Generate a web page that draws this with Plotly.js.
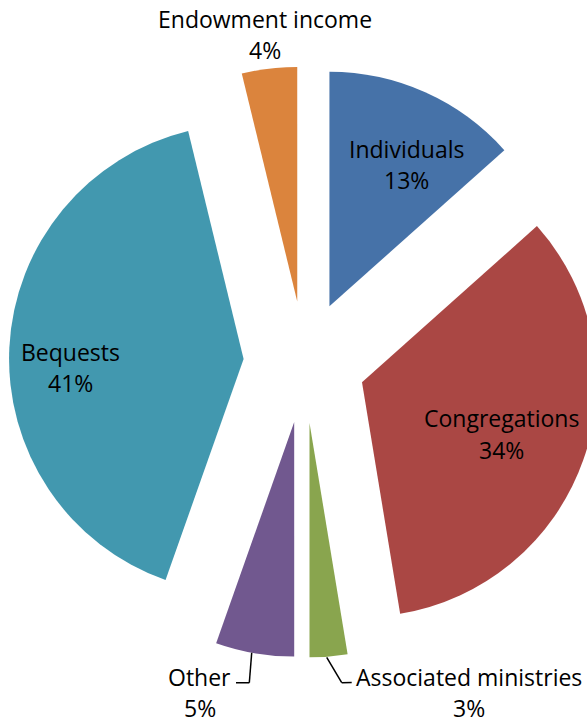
<!DOCTYPE html>
<html>
<head>
<meta charset="utf-8">
<script src="https://cdn.plot.ly/plotly-3.0.1.min.js"></script>
<style>
  html, body { margin: 0; padding: 0; overflow: hidden; background: #ffffff; }
  #chart { width: 600px; height: 723px; }
</style>
</head>
<body>
<div id="chart"></div>
<script>
// ---- data ----
const categories = ['Individuals', 'Congregations', 'Associated ministries', 'Other', 'Bequests', 'Endowment income'];
const shares = [13.4, 34.0, 2.6, 5.4, 40.8, 3.8];
const sliceColors = ['#4672A8', '#AA4744', '#89A54E', '#71588F', '#4298AF', '#DB843D'];

// ---- layout / style ----
const W = 600, H = 723;
const M = { l: 9, r: 0, t: 1, b: 0 };
const PULL = 0.26;
const FONT = '"Open Sans", Lato, sans-serif';
const FONT_SIZE = 23;
const LINE_GAP = 31.4;
// label centre offsets (px) from each slice's outer-arc midpoint
const labelOffsets = [[-19.2, 72.2], [-81.7, -26.3], [140.4, 35.7], [-55.1, 39.5], [61.6, 20.1], [-4.7, -34.3]];
// elbow leader lines (px offsets from outer-arc midpoint), keyed by slice index
const leaders = {
  2: [[-1.9, 0.8], [13.1, 26.2], [23.1, 26.0]],
  3: [[-2.9, -0.5], [-5.3, 29.5], [-18.6, 29.5]]
};

// ---- geometry, mirroring how Plotly sizes a pie in its domain ----
const plotW = W - M.l - M.r, plotH = H - M.t - M.b;
const rad = Math.min(plotW, plotH) / 2 / (1 + PULL);
const cx = M.l + plotW / 2, cy = M.t + plotH / 2;
const total = shares.reduce((a, b) => a + b, 0);
const toPX = px => (px - M.l) / plotW;
const toPY = py => 1 - (py - M.t) / plotH;

const annotations = [];
const shapes = [];
let cum = 0;
shares.forEach((v, i) => {
  const mid = 2 * Math.PI * (cum + v / 2) / total; // clockwise from 12 o'clock
  cum += v;
  const dx = Math.sin(mid), dy = -Math.cos(mid);
  const ax = cx + dx * rad * (1 + PULL);
  const ay = cy + dy * rad * (1 + PULL);
  const lx = ax + labelOffsets[i][0], ly = ay + labelOffsets[i][1];
  const lines = [categories[i], Math.round(100 * v / total) + '%'];
  lines.forEach((txt, k) => {
    annotations.push({
      xref: 'paper', yref: 'paper',
      x: toPX(lx), y: toPY(ly + (k - 0.5) * LINE_GAP),
      xanchor: 'center', yanchor: 'middle',
      showarrow: false,
      text: txt,
      font: { family: FONT, size: FONT_SIZE, color: '#000000' }
    });
  });
  if (leaders[i]) {
    const pts = leaders[i];
    for (let k = 0; k < pts.length - 1; k++) {
      shapes.push({
        type: 'line', xref: 'paper', yref: 'paper',
        x0: toPX(ax + pts[k][0]), y0: toPY(ay + pts[k][1]),
        x1: toPX(ax + pts[k + 1][0]), y1: toPY(ay + pts[k + 1][1]),
        line: { color: '#000000', width: 1.5 }
      });
    }
  }
});

const trace = {
  type: 'pie',
  labels: categories,
  values: shares,
  sort: false,
  direction: 'clockwise',
  rotation: 0,
  pull: shares.map(() => PULL),
  marker: { colors: sliceColors, line: { width: 0 } },
  textinfo: 'none',
  hoverinfo: 'label+percent',
  showlegend: false
};

const layout = {
  width: W, height: H,
  margin: M,
  paper_bgcolor: '#ffffff',
  plot_bgcolor: '#ffffff',
  showlegend: false,
  font: { family: FONT, size: FONT_SIZE, color: '#000000' },
  annotations: annotations,
  shapes: shapes
};

Plotly.newPlot('chart', [trace], layout, { displayModeBar: false, staticPlot: true });
</script>
</body>
</html>
